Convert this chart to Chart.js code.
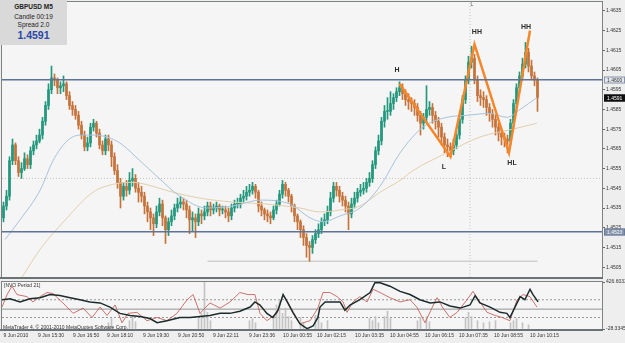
<!DOCTYPE html>
<html>
<head>
<meta charset="utf-8">
<script src="https://cdn.jsdelivr.net/npm/chart.js@4.4.0/dist/chart.umd.min.js"></script>
<style>
  body { margin: 0; background: #eeeeee; width: 625px; height: 343px; overflow: hidden; position: relative; font-family: "Liberation Sans", Arial, sans-serif; }
  canvas { position: absolute; left: 0; }
  #main { top: 0; }
  #sub { top: 279px; }
  #info { position: absolute; left: 0; top: 0; width: 67px; height: 45px; background: #d9d9d9; color: #222; z-index: 2; }
  #info div { position: absolute; left: 0; width: 100%; text-align: center; white-space: nowrap; }
  .sym { top: 3px; font: bold 6.5px/7px "Liberation Sans", Arial, sans-serif; }
  .small { font: 6.5px/7px "Liberation Sans", Arial, sans-serif; }
  .bid { top: 30px; font: bold 10.5px/11px "Liberation Sans", Arial, sans-serif; color: #2a48a6; }
  .note { position: absolute; left: 4px; font: 5px/6px "Liberation Sans", Arial, sans-serif; color: #333; white-space: nowrap; z-index: 2; }
</style>
</head>
<body>
<canvas id="main" width="625" height="279"></canvas>
<canvas id="sub" width="625" height="64"></canvas>
<div id="info">
  <div class="sym">GBPUSD M5</div>
  <div class="small" style="top:13px">Candle 00:19</div>
  <div class="small" style="top:21px">Spread 2.0</div>
  <div class="bid">1.4591</div>
</div>
<div class="note" style="top:282px">[NVO Period 21]</div>
<div class="note" style="top:324px;left:3px">MetaTrader 4, © 2001-2010 MetaQuotes Software Corp.</div>
<script>
// ---- price data (M5 bars) ----
const firstOpen = 1.4530;
const closes = [
  1.4536,1.4541,1.4559,1.4567,1.4559,1.4553,1.4555,1.4560,1.4557,1.4564,
  1.4567,1.4569,1.4572,1.4579,1.4587,1.4595,1.4601,1.4600,1.4596,1.4597,
  1.4598,1.4592,1.4587,1.4585,1.4582,1.4577,1.4572,1.4566,1.4568,1.4576,
  1.4578,1.4573,1.4567,1.4564,1.4570,1.4567,1.4561,1.4554,1.4548,1.4541,
  1.4546,1.4544,1.4549,1.4550,1.4545,1.4543,1.4541,1.4536,1.4533,1.4530,
  1.4527,1.4533,1.4537,1.4530,1.4524,1.4528,1.4531,1.4535,1.4537,1.4538,
  1.4537,1.4534,1.4529,1.4530,1.4528,1.4532,1.4531,1.4533,1.4536,1.4534,
  1.4535,1.4536,1.4534,1.4534,1.4533,1.4531,1.4535,1.4537,1.4537,1.4540,
  1.4541,1.4543,1.4544,1.4546,1.4543,1.4536,1.4534,1.4532,1.4531,1.4530,
  1.4534,1.4537,1.4542,1.4547,1.4544,1.4541,1.4536,1.4531,1.4528,1.4524,
  1.4520,1.4516,1.4515,1.4519,1.4522,1.4524,1.4528,1.4529,1.4533,1.4540,
  1.4546,1.4544,1.4541,1.4539,1.4536,1.4532,1.4537,1.4540,1.4543,1.4544,
  1.4545,1.4548,1.4550,1.4557,1.4564,1.4569,1.4579,1.4584,1.4584,1.4588,
  1.4591,1.4594,1.4596,1.4593,1.4590,1.4589,1.4588,1.4586,1.4582,1.4578,
  1.4581,1.4585,1.4586,1.4582,1.4579,1.4576,1.4571,1.4567,1.4566,1.4564,
  1.4567,1.4572,1.4580,1.4590,1.4600,1.4609,1.4611,1.4600,1.4592,1.4591,
  1.4590,1.4586,1.4583,1.4580,1.4576,1.4573,1.4571,1.4570,1.4569,1.4578,
  1.4588,1.4596,1.4602,1.4608,1.4614,1.4607,1.4602,1.4600,1.4591
];
const highs = [
  1.4538,1.4544,1.4561,1.4570,1.4568,1.4561,1.4558,1.4563,1.4562,1.4566,
  1.4569,1.4572,1.4575,1.4581,1.4589,1.4598,1.4607,1.4603,1.4601,1.4599,
  1.4602,1.4599,1.4594,1.4589,1.4587,1.4584,1.4579,1.4574,1.4571,1.4578,
  1.4580,1.4579,1.4575,1.4569,1.4572,1.4572,1.4569,1.4563,1.4557,1.4550,
  1.4548,1.4549,1.4553,1.4555,1.4552,1.4548,1.4546,1.4543,1.4538,1.4535,
  1.4532,1.4536,1.4540,1.4539,1.4531,1.4530,1.4534,1.4537,1.4540,1.4541,
  1.4540,1.4539,1.4536,1.4533,1.4532,1.4535,1.4534,1.4536,1.4538,1.4538,
  1.4537,1.4538,1.4537,1.4536,1.4536,1.4535,1.4537,1.4539,1.4540,1.4542,
  1.4544,1.4546,1.4547,1.4548,1.4547,1.4544,1.4538,1.4535,1.4534,1.4533,
  1.4536,1.4539,1.4544,1.4549,1.4548,1.4545,1.4542,1.4537,1.4532,1.4529,
  1.4526,1.4522,1.4518,1.4521,1.4524,1.4527,1.4530,1.4532,1.4536,1.4543,
  1.4548,1.4548,1.4546,1.4543,1.4541,1.4538,1.4540,1.4543,1.4545,1.4547,
  1.4548,1.4550,1.4553,1.4559,1.4566,1.4572,1.4581,1.4587,1.4591,1.4594,
  1.4593,1.4596,1.4599,1.4598,1.4595,1.4593,1.4591,1.4590,1.4588,1.4584,
  1.4583,1.4597,1.4589,1.4588,1.4584,1.4581,1.4578,1.4573,1.4570,1.4568,
  1.4570,1.4574,1.4582,1.4592,1.4602,1.4612,1.4617,1.4613,1.4602,1.4595,
  1.4594,1.4592,1.4588,1.4585,1.4582,1.4578,1.4575,1.4573,1.4572,1.4580,
  1.4590,1.4598,1.4604,1.4611,1.4619,1.4616,1.4610,1.4604,1.4601
];
const lows = [
  1.4528,1.4534,1.4539,1.4557,1.4557,1.4551,1.4550,1.4554,1.4555,1.4555,
  1.4562,1.4565,1.4568,1.4570,1.4577,1.4585,1.4593,1.4597,1.4593,1.4593,
  1.4594,1.4590,1.4585,1.4582,1.4580,1.4575,1.4570,1.4564,1.4564,1.4566,
  1.4574,1.4571,1.4565,1.4562,1.4562,1.4564,1.4556,1.4552,1.4545,1.4535,
  1.4539,1.4541,1.4542,1.4546,1.4543,1.4538,1.4538,1.4532,1.4528,1.4524,
  1.4521,1.4525,1.4531,1.4526,1.4517,1.4521,1.4526,1.4529,1.4533,1.4535,
  1.4534,1.4530,1.4522,1.4523,1.4520,1.4526,1.4527,1.4529,1.4531,1.4531,
  1.4532,1.4533,1.4531,1.4532,1.4530,1.4528,1.4529,1.4533,1.4535,1.4535,
  1.4538,1.4539,1.4541,1.4542,1.4540,1.4533,1.4531,1.4529,1.4528,1.4527,
  1.4529,1.4532,1.4536,1.4540,1.4541,1.4538,1.4533,1.4528,1.4524,1.4520,
  1.4516,1.4510,1.4508,1.4512,1.4517,1.4520,1.4522,1.4526,1.4527,1.4531,
  1.4538,1.4541,1.4538,1.4536,1.4533,1.4524,1.4530,1.4535,1.4538,1.4541,
  1.4542,1.4543,1.4546,1.4548,1.4555,1.4562,1.4567,1.4576,1.4580,1.4582,
  1.4585,1.4589,1.4592,1.4590,1.4587,1.4585,1.4584,1.4582,1.4579,1.4572,
  1.4575,1.4579,1.4582,1.4578,1.4575,1.4571,1.4567,1.4563,1.4561,1.4561,
  1.4562,1.4565,1.4570,1.4578,1.4588,1.4598,1.4606,1.4598,1.4589,1.4587,
  1.4586,1.4582,1.4579,1.4576,1.4572,1.4569,1.4567,1.4566,1.4563,1.4567,
  1.4576,1.4586,1.4594,1.4600,1.4606,1.4604,1.4600,1.4597,1.4584
];
const opens = [firstOpen].concat(closes.slice(0, -1));

// moving averages, read at sample bars
const maFastIdx = [0.5, 5.5, 12.2, 16.5, 21.2, 25.5, 29.8, 34.5, 38.8, 45.5, 51.2, 58.8, 67.8, 76.5, 85.5, 95.5, 102.2, 106.5, 112.2, 118.8, 125.5, 132.2, 139.8, 147.8, 154.5, 162.2, 167.8, 172.2, 177.8];
const maFastVal = [1.4519, 1.4529, 1.4544, 1.4559, 1.4569, 1.4572, 1.4572, 1.4571, 1.4568, 1.4559, 1.4551, 1.4541, 1.4535, 1.4536, 1.4539, 1.4537, 1.4530, 1.4528, 1.4531, 1.4535, 1.4546, 1.4563, 1.4576, 1.4581, 1.4582, 1.4583, 1.4581, 1.4585, 1.4591];
const maSlowIdx = [6.2, 12.2, 21.2, 29.8, 36.5, 43.2, 49.8, 56.5, 65.5, 76.5, 87.8, 98.8, 105.5, 112.2, 118.8, 125.5, 132.2, 136.5, 147.8, 158.8, 169.8, 177.8];
const maSlowVal = [1.4500, 1.4514, 1.4530, 1.4543, 1.4547, 1.4548, 1.4546, 1.4543, 1.4540, 1.4538, 1.4537, 1.4535, 1.4533, 1.4534, 1.4536, 1.4543, 1.4549, 1.4554, 1.4563, 1.4571, 1.4575, 1.4578];

// zigzag pattern and its labels
const zigIdx = [132, 149, 157, 168.5, 175.5];
const zigVal = [1.4598, 1.4561, 1.4618, 1.4563, 1.4625];
const patText = ['H', 'L', 'HH', 'HL', 'HH'];
const patIdx = [131.2, 146.8, 157.8, 169.5, 174.2];
const patVal = [1.4605, 1.4556, 1.4624, 1.4558, 1.4627];

// chart objects
const levelLines = [1.4600, 1.4523];
const lastPrice = 1.4591;
const dotLevel = 1.4550;
const vlineIdx = 155.5;
const vlineName = 'L';
const trendIdx = [68, 178];
const trendVal = [1.4508, 1.4508];
const priceTicks = [1.4505, 1.4515, 1.4525, 1.4535, 1.4545, 1.4555, 1.4565, 1.4575, 1.4585, 1.4595, 1.4605, 1.4615, 1.4625, 1.4635];
const priceMin = 1.4500, priceMax = 1.46395;

// time axis
const timeIdx = [0, 11.5, 23.2, 34.5, 46.5, 58.2, 69.8, 81.8, 93.2, 104.5, 117.2, 128.8, 140.5, 151.8, 163.5, 175.5];
const timeLabels = ['9 Jun 2010', '9 Jun 15:30', '9 Jun 16:50', '9 Jun 18:10', '9 Jun 19:30', '9 Jun 20:50', '9 Jun 22:11', '9 Jun 23:36', '10 Jun 00:55', '10 Jun 02:15', '10 Jun 03:35', '10 Jun 04:55', '10 Jun 06:15', '10 Jun 07:35', '10 Jun 08:55', '10 Jun 10:15'];
const slots = 200;

// NVO sub window
const nvoMin = -28.3345, nvoMax = 426.6033;
const nvoLevels = [255, 164, 83];
const nvoIdx = [-0.5,2.2,5.5,8.8,12.2,15.5,18.8,22.2,25.5,28.8,32.2,35.5,38.8,42.2,45.5,48.8,51.2,54.5,58.8,62.2,65.5,68.8,72.2,75.5,78.8,82.2,83.8,85.5,87.8,89.8,91.5,93.2,94.8,96.5,98.8,101.2,103.2,104.8,105.5,107.2,108.8,112.2,113.8,115.5,118.8,122.2,123.8,125.5,128.8,132.2,135.5,138.8,142.2,145.5,148.8,152.2,155.5,157.2,158.8,162.2,165.5,167.8,168.8,170.5,172.2,173.8,175.5,176.5,178.2];
const nvoVal = [255,265,234,265,275,305,295,275,255,234,224,184,123,103,93,73,32,52,83,83,93,103,123,123,144,184,234,204,123,83,154,305,224,133,22,-25,2,83,184,234,234,234,154,204,255,325,420,420,386,336,305,255,224,234,194,174,204,295,224,184,133,123,83,184,285,255,356,305,234];
const sigIdx = [-0.5,1.2,2.8,4.5,7.8,9.8,12.2,14.5,16.5,19.8,23.2,26.5,29.5,32.2,34.5,37.2,39.5,41.5,44.5,47.8,51.2,54.5,57.8,61.2,63.2,65.5,68.8,72.2,75.5,78.8,81.5,83.8,85.5,87.8,91.2,93.2,96.5,98.8,102.2,104.8,106.5,108.8,111.2,113.2,114.5,116.5,118.8,121.2,123.2,125.5,128.8,132.2,135.5,137.8,140.5,142.8,144.5,146.5,148.8,151.2,154.5,156.5,158.8,161.2,163.8,166.2,168.8,171.2,173.2,175.5,177.8];
const sigVal = [184,305,386,305,285,234,285,325,315,224,123,174,83,184,103,204,32,123,133,52,83,52,123,255,305,123,224,174,234,325,305,305,123,52,123,305,123,22,52,174,325,325,285,234,133,234,285,234,356,325,275,234,255,184,32,174,275,174,83,133,255,336,234,133,103,83,52,255,305,285,184];
const volIdx = [35,36,42,43,44,65,66,67,68,69,82,83,84,90,91,92,93,94,95,96,99,100,104,105,106,108,122,123,124,125,127,128,129,138,139,141,142,154,155,156,158,160,162,164,169,170,171,173,175];
const volVal = [32,73,52,93,42,73,123,426,133,52,52,73,32,103,204,255,123,174,93,52,83,32,103,73,32,52,73,52,93,32,93,143,73,52,83,93,42,83,133,93,52,32,42,52,32,52,73,32,12];

// ---- helpers ----
const pts = (xs, ys) => xs.map((x, i) => ({ x: x, y: ys[i] }));
const hline = v => [{ x: -0.5, y: v }, { x: slots - 0.5, y: v }];
const bull = '#23987c', bear = '#c4733b';
const bars = closes.map((_, i) => i);
const barColor = bars.map(i => closes[i] >= opens[i] ? bull : bear);
const tickFont = { family: '"Liberation Sans", Arial, sans-serif', size: 5 };

const frame = {
  id: 'frame',
  beforeDraw(chart) {
    const { ctx, chartArea: a, width, height } = chart;
    ctx.save();
    ctx.fillStyle = '#eeeeee';
    ctx.fillRect(0, 0, width, height);
    ctx.fillStyle = '#f5f5f5';
    ctx.fillRect(a.left, a.top, a.right - a.left, a.bottom - a.top);
    ctx.restore();
  },
  afterDraw(chart) {
    const { ctx, chartArea: a } = chart;
    ctx.save();
    ctx.strokeStyle = '#7d8282';
    ctx.lineWidth = 1;
    ctx.strokeRect(a.left - 0.5, a.top - 0.5, a.right - a.left + 1, a.bottom - a.top + 1);
    ctx.fillStyle = '#6b7474';
    ctx.fillRect(0, a.bottom, a.right + 1, 2);
    ctx.restore();
  }
};

// texts and price boxes of the main window
const marks = {
  id: 'marks',
  afterDatasetsDraw(chart) {
    const { ctx, scales: { x, y }, chartArea: a } = chart;
    ctx.save();
    ctx.fillStyle = '#2c2c2c';
    ctx.font = 'bold 7px "Liberation Sans", Arial, sans-serif';
    ctx.textAlign = 'center';
    ctx.textBaseline = 'middle';
    patText.forEach((t, i) => ctx.fillText(t, x.getPixelForValue(patIdx[i]), y.getPixelForValue(patVal[i])));
    ctx.fillStyle = '#555';
    ctx.font = '5px "Liberation Sans", Arial, sans-serif';
    ctx.fillText(vlineName, x.getPixelForValue(vlineIdx) + 2, a.top + 3);
    ctx.restore();
  },
  afterDraw(chart) {
    const { ctx, scales: { y }, chartArea: a } = chart;
    const boxes = [
      { v: levelLines[0], bg: '#e4e7ec', fg: '#333', border: '#8a96a8' },
      { v: lastPrice, bg: '#111111', fg: '#ffffff', border: '#111111' },
      { v: levelLines[1], bg: '#8896ad', fg: '#f2f2f2', border: '#6d7c95' }
    ];
    ctx.save();
    ctx.font = '5px "Liberation Sans", Arial, sans-serif';
    ctx.textAlign = 'left';
    ctx.textBaseline = 'middle';
    boxes.forEach(b => {
      const py = Math.round(y.getPixelForValue(b.v));
      ctx.fillStyle = b.bg;
      ctx.fillRect(a.right + 2, py - 3.5, 21, 7);
      ctx.strokeStyle = b.border;
      ctx.strokeRect(a.right + 2.5, py - 3, 20, 6);
      ctx.fillStyle = b.fg;
      ctx.fillText(b.v.toFixed(4), a.right + 5, py + 0.5);
    });
    ctx.restore();
  }
};

new Chart(document.getElementById('main'), {
  type: 'bar',
  data: {
    datasets: [
      { type: 'line', data: hline(levelLines[0]), borderColor: '#5f7396', borderWidth: 1.5, pointRadius: 0, order: 0 },
      { type: 'line', data: hline(levelLines[1]), borderColor: '#5f7396', borderWidth: 1.5, pointRadius: 0, order: 0 },
      { type: 'line', data: hline(dotLevel), borderColor: '#c9c2b8', borderWidth: 1, borderDash: [1, 2], pointRadius: 0, order: 5 },
      { type: 'line', data: [{ x: vlineIdx, y: priceMin }, { x: vlineIdx, y: priceMax }], borderColor: '#c4c4c4', borderWidth: 1, borderDash: [1, 2], pointRadius: 0, order: 5 },
      { type: 'line', data: pts(trendIdx, trendVal), borderColor: '#cfcfcf', borderWidth: 1.5, pointRadius: 0, order: 5 },
      { type: 'line', data: pts(zigIdx, zigVal), borderColor: '#f5862a', borderWidth: 2.5, pointRadius: 0, order: 0 },
      { type: 'line', data: pts(maFastIdx, maFastVal), borderColor: '#a8c2dc', borderWidth: 1, pointRadius: 0, cubicInterpolationMode: 'monotone', order: 1 },
      { type: 'line', data: pts(maSlowIdx, maSlowVal), borderColor: '#e3cfab', borderWidth: 1, pointRadius: 0, cubicInterpolationMode: 'monotone', order: 1 },
      { data: bars.map(i => ({ x: i, y: [lows[i], highs[i]] })), backgroundColor: barColor, barThickness: 1, grouped: false, order: 3 },
      { data: bars.map(i => ({ x: i, y: [opens[i], closes[i]] })), backgroundColor: barColor, barThickness: 2, minBarLength: 1, grouped: false, order: 2 }
    ]
  },
  options: {
    responsive: false,
    animation: false,
    events: [],
    layout: { padding: { left: 2, top: 2, right: 0, bottom: 2 } },
    plugins: { legend: { display: false }, tooltip: { enabled: false } },
    scales: {
      x: { type: 'linear', min: -0.5, max: slots - 0.5, offset: false, display: false },
      y: {
        position: 'right', min: priceMin, max: priceMax, beginAtZero: false,
        afterBuildTicks: s => { s.ticks = priceTicks.map(v => ({ value: v })); },
        afterFit: s => { s.width = 23; s.paddingTop = 0; s.paddingBottom = 0; },
        grid: { drawOnChartArea: false, drawTicks: true, tickLength: 3, color: '#666' },
        border: { display: false },
        ticks: { font: tickFont, color: '#333', padding: 1, callback: v => v.toFixed(4) }
      }
    }
  },
  plugins: [frame, marks]
});

new Chart(document.getElementById('sub'), {
  type: 'bar',
  data: {
    datasets: [
      { type: 'line', data: hline(nvoLevels[0]), borderColor: '#9a9a9a', borderWidth: 1, borderDash: [2, 2], pointRadius: 0, order: 4 },
      { type: 'line', data: hline(nvoLevels[1]), borderColor: '#8f9494', borderWidth: 1, pointRadius: 0, order: 4 },
      { type: 'line', data: hline(nvoLevels[2]), borderColor: '#9a9a9a', borderWidth: 1, borderDash: [2, 2], pointRadius: 0, order: 4 },
      { data: pts(volIdx, volVal), base: nvoMin, backgroundColor: '#c3c3c3', barThickness: 1, order: 3 },
      { type: 'line', data: pts(sigIdx, sigVal), borderColor: '#c0504a', borderWidth: 0.8, pointRadius: 0, order: 1 },
      { type: 'line', data: pts(nvoIdx, nvoVal), borderColor: '#1c2b2b', borderWidth: 1.5, pointRadius: 0, order: 0 }
    ]
  },
  options: {
    responsive: false,
    animation: false,
    events: [],
    layout: { padding: { left: 2, top: 3, right: 0, bottom: 0 } },
    plugins: { legend: { display: false }, tooltip: { enabled: false } },
    scales: {
      x: {
        type: 'linear', min: -0.5, max: slots - 0.5, offset: false,
        afterBuildTicks: s => { s.ticks = timeIdx.map(v => ({ value: v })); },
        afterFit: s => { s.height = 14; s.paddingLeft = 0; s.paddingRight = 0; },
        grid: { drawOnChartArea: false, drawTicks: true, tickLength: 2, color: '#555' },
        border: { display: false },
        ticks: { font: tickFont, color: '#333', padding: 2, align: 'start', autoSkip: false, maxRotation: 0, callback: (v, i) => timeLabels[i] }
      },
      y: {
        position: 'right', min: nvoMin, max: nvoMax, beginAtZero: false,
        afterBuildTicks: s => { s.ticks = [{ value: nvoMin }, { value: nvoMax }]; },
        afterFit: s => { s.width = 23; s.paddingTop = 0; s.paddingBottom = 0; },
        grid: { drawOnChartArea: false, drawTicks: true, tickLength: 3, color: '#666' },
        border: { display: false },
        ticks: { font: tickFont, color: '#333', padding: 1, callback: v => v.toFixed(4) }
      }
    }
  },
  plugins: [frame]
});
</script>
</body>
</html>
